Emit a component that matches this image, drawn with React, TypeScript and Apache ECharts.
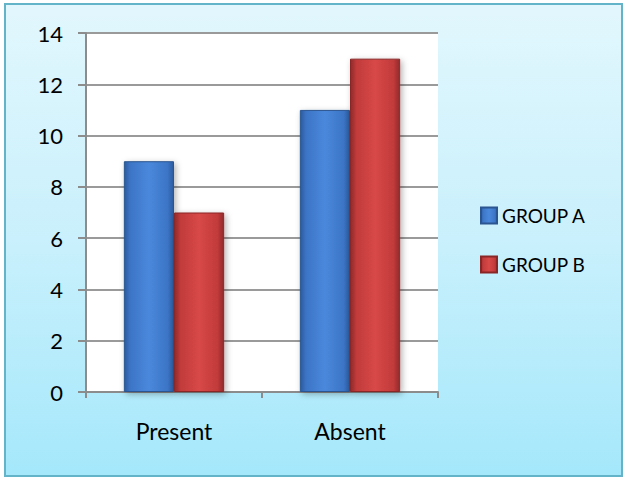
import React, { useEffect, useRef } from "react";
import * as echarts from "echarts";

const categories = ["Present", "Absent"];
const groupA = [9, 11];
const groupB = [7, 13];
const seriesNames = ["GROUP A", "GROUP B"];

const FONT = "Lato";

function barGradient(dark: string, mid: string, light: string) {
  return new echarts.graphic.LinearGradient(0, 0, 1, 0, [
    { offset: 0, color: dark },
    { offset: 0.12, color: mid },
    { offset: 0.5, color: light },
    { offset: 0.88, color: mid },
    { offset: 1, color: dark },
  ]);
}

export default function App() {
  const ref = useRef<HTMLDivElement>(null);

  useEffect(() => {
    document.body.style.margin = "0";
    const chart = echarts.init(ref.current!, null, { renderer: "svg" });
    const blue = barGradient("#2b5a9e", "#3c75c6", "#4a88dc");
    const red = barGradient("#8e2a2a", "#c13b3b", "#d84848");
    chart.setOption({
      animation: false,
      backgroundColor: "transparent",
      textStyle: { fontFamily: FONT },
      grid: {
        left: 86,
        top: 33,
        width: 352,
        height: 359,
        show: true,
        backgroundColor: "#ffffff",
        borderWidth: 0,
      },
      legend: {
        orient: "vertical",
        left: 480,
        top: 206,
        padding: 0,
        itemWidth: 16,
        itemHeight: 16,
        itemGap: 30,
        icon: "rect",
        textStyle: { fontFamily: FONT, fontSize: 19, color: "#000" },
        data: seriesNames,
      },
      xAxis: {
        type: "category",
        data: categories,
        axisLine: { show: true, lineStyle: { color: "#8c8c8c", width: 2 } },
        axisTick: { show: true, length: 6, lineStyle: { color: "#8c8c8c", width: 2 } },
        axisLabel: { fontFamily: FONT, fontSize: 23, color: "#000", margin: 27 },
      },
      yAxis: {
        type: "value",
        min: 0,
        max: 14,
        interval: 2,
        axisLine: { show: true, lineStyle: { color: "#8c8c8c", width: 2 } },
        axisTick: { show: true, length: 8, lineStyle: { color: "#8c8c8c", width: 2 } },
        splitLine: { lineStyle: { color: "#9a9a9a", width: 2 } },
        axisLabel: { fontFamily: FONT, fontSize: 22, color: "#000", margin: 23 },
      },
      series: [
        {
          name: seriesNames[0],
          type: "bar",
          data: groupA,
          barGap: "0%",
          barCategoryGap: "43%",
          itemStyle: {
            color: blue,
            borderColor: "#2a5590",
            borderWidth: 1,
            shadowColor: "rgba(0,0,0,0.3)",
            shadowBlur: 6,
            shadowOffsetX: 2,
            shadowOffsetY: 2,
          },
        },
        {
          name: seriesNames[1],
          type: "bar",
          data: groupB,
          itemStyle: {
            color: red,
            borderColor: "#8a2626",
            borderWidth: 1,
            shadowColor: "rgba(0,0,0,0.3)",
            shadowBlur: 6,
            shadowOffsetX: 2,
            shadowOffsetY: 2,
          },
        },
      ],
    });
    return () => chart.dispose();
  }, []);

  return (
    <div style={{ position: "absolute", left: 0, top: 0, width: 626, height: 480, background: "#fff" }}>
      <div
        style={{
          position: "absolute",
          left: 4,
          top: 3,
          width: 615,
          height: 470,
          border: "2px solid #63b3c9",
          background: "linear-gradient(to bottom, #e2f7fd 0%, #c9f0fc 50%, #a5e8fb 100%)",
        }}
      />
      <div ref={ref} style={{ position: "absolute", left: 0, top: 0, width: 626, height: 480 }} />
    </div>
  );
}
